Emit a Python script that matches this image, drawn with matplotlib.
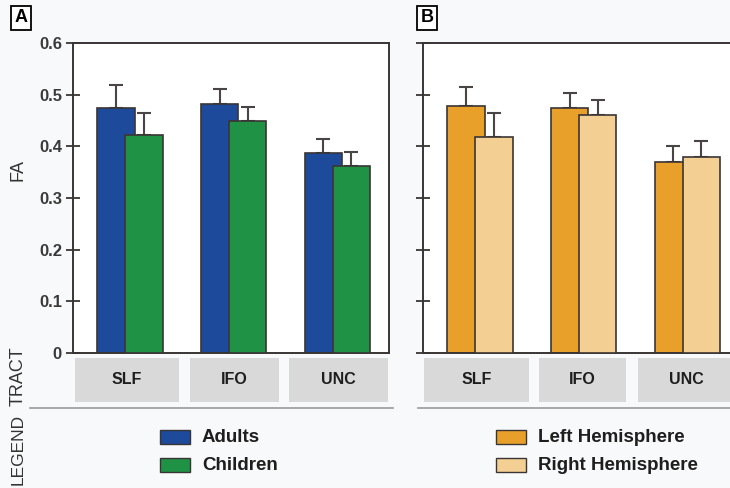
import numpy as np
import matplotlib.pyplot as plt
from matplotlib.patches import Rectangle
import matplotlib.transforms as mtransforms

plt.rcParams['font.family'] = ['Liberation Sans', 'DejaVu Sans']

# FA by tract, panel A (age groups) and panel B (hemispheres)
tracts = ['SLF', 'IFO', 'UNC']
adults = [0.474, 0.482, 0.387]
adults_err = [0.045, 0.029, 0.027]
children = [0.422, 0.449, 0.362]
children_err = [0.042, 0.027, 0.027]
left_hemi = [0.478, 0.474, 0.370]
left_err = [0.037, 0.029, 0.031]
right_hemi = [0.418, 0.461, 0.379]
right_err = [0.046, 0.029, 0.031]
yticks = [0, 0.1, 0.2, 0.3, 0.4, 0.5, 0.6]
ytick_labels = ['0', '0.1', '0.2', '0.3', '0.4', '0.5', '0.6']

W, H = 730, 488
fig = plt.figure(figsize=(7.3, 4.88), dpi=100)
fig.patch.set_facecolor('#f8f9fb')


def fx(px):
    return px / W


def fy(py):
    return 1 - py / H


edge = '#3a3535'
x = np.arange(len(tracts))
bw = 0.36
off = 0.135


def panel(left_px, right_px, xmax, s1, e1, s2, e2, c1, c2, boxes, labels):
    ax = fig.add_axes([fx(left_px), fy(353), fx(right_px - left_px), (353 - 43) / H])
    ax.set_facecolor('white')
    ax.bar(x - off, s1, bw, color=c1, edgecolor=edge, linewidth=1.2, zorder=2)
    ax.errorbar(x - off, s1, yerr=[np.zeros(3), e1], fmt='none', ecolor='#4a4545',
                elinewidth=1.5, capsize=5, capthick=1.5, zorder=1)
    ax.bar(x + off, s2, bw, color=c2, edgecolor=edge, linewidth=1.2, zorder=3)
    ax.errorbar(x + off, s2, yerr=[np.zeros(3), e2], fmt='none', ecolor='#4a4545',
                elinewidth=1.5, capsize=5, capthick=1.5, zorder=1)
    ax.set_xlim(-0.55, xmax)
    ax.set_ylim(0, 0.6)
    ax.set_xticks([])
    ax.set_yticks(yticks)
    if labels:
        ax.set_yticklabels(ytick_labels, fontsize=12, fontweight='semibold', color='#3a3a3a')
    else:
        ax.set_yticklabels([])
    ax.tick_params(axis='y', direction='inout', length=10, width=1.3, color=edge, pad=3)
    for sp in ax.spines.values():
        sp.set_color(edge)
        sp.set_linewidth(1.4)
    trans = mtransforms.blended_transform_factory(ax.transData, ax.transAxes)
    for (a, b), name in zip(boxes, tracts):
        ax.add_patch(Rectangle((a, -0.158), b - a, 0.142, transform=trans,
                               facecolor='#d9d9d9', edgecolor='none', clip_on=False))
        ax.text((a + b) / 2, -0.087, name, transform=trans, ha='center', va='center',
                fontsize=11.5, fontweight='bold', color='#1e1e1e')
    return ax


axA = panel(73, 389, 2.5, adults, adults_err, children, children_err,
            '#1d4a9b', '#1f9245',
            [(-0.53, 0.47), (0.58, 1.44), (1.53, 2.49)], True)
axB = panel(423, 730, 2.41, left_hemi, left_err, right_hemi, right_err,
            '#e9a02b', '#f3cf94',
            [(-0.54, 0.47), (0.57, 1.41), (1.52, 2.45)], False)
axB.spines['right'].set_visible(False)

# panel labels
for lab, px in [('A', 21), ('B', 427)]:
    fig.text(fx(px), fy(18), lab, ha='center', va='center', fontsize=13,
             fontweight='bold',
             bbox=dict(boxstyle='square,pad=0.2', facecolor='white', edgecolor='black', lw=1.3))

fig.text(fx(18), fy(170), 'FA', rotation=90, ha='center', va='center', fontsize=13, color='#333333')
fig.text(fx(18), fy(376), 'TRACT', rotation=90, ha='center', va='center', fontsize=13, color='#333333')
fig.text(fx(18), fy(449), 'LEGEND', rotation=90, ha='center', va='center', fontsize=12.5, color='#333333')

# separator lines
fig.add_artist(plt.Line2D([fx(30), fx(393)], [fy(408), fy(408)], color='#9a9a9a', lw=1.2))
fig.add_artist(plt.Line2D([fx(418), fx(730)], [fy(408), fy(408)], color='#9a9a9a', lw=1.2))

# legends
legend_items = [
    (160, 'Adults', '#1d4a9b', 437), (160, 'Children', '#1f9245', 465),
    (496, 'Left Hemisphere', '#e9a02b', 437), (496, 'Right Hemisphere', '#f3cf94', 465),
]
for px, name, col, py in legend_items:
    fig.add_artist(Rectangle((fx(px), fy(py + 7)), fx(30), 14 / H, facecolor=col,
                             edgecolor=edge, lw=1.0, transform=fig.transFigure))
    fig.text(fx(px + 42), fy(py), name, ha='left', va='center', fontsize=13.5,
             fontweight='bold', color='#1e1e1e')

fig.savefig('out.png', dpi=100, facecolor=fig.get_facecolor())
